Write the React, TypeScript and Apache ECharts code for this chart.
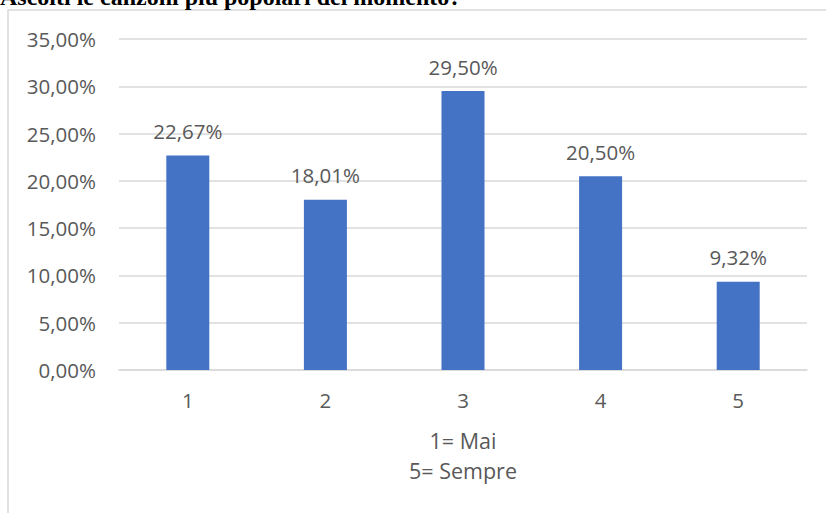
import React, { useEffect, useRef } from "react";
import * as echarts from "echarts";

const categories = ["1", "2", "3", "4", "5"];
const percentages = [22.67, 18.01, 29.5, 20.5, 9.32];
const axisNote = ["1= Mai", "5= Sempre"];
const title = "Ascolti le canzoni più popolari del momento?";

const fmt = (v: number) => v.toFixed(2).replace(".", ",") + "%";

const FONT = "Open Sans";
const TEXT = "#595959";

export default function App() {
  const ref = useRef<HTMLDivElement>(null);

  useEffect(() => {
    if (!ref.current) return;
    const chart = echarts.init(ref.current, null, { renderer: "svg" });
    chart.setOption({
      animation: false,
      backgroundColor: "#ffffff",
      grid: { left: 119, right: 19, top: 39, bottom: 143 },
      graphic: [
        {
          type: "rect",
          shape: { x: 8, y: 10, width: 900, height: 600 },
          style: { fill: "none", stroke: "#d9d9d9", lineWidth: 1.5 },
          z: -1,
        },
        {
          type: "text",
          x: 0,
          y: -3,
          style: {
            text: title,
            font: "bold 24px 'Liberation Serif'",
            fill: "#000000",
            verticalAlign: "middle",
          },
        },
        {
          type: "text",
          x: 463,
          y: 425,
          style: {
            text: axisNote.join("\n"),
            font: `21.5px '${FONT}'`,
            fill: TEXT,
            align: "center",
            verticalAlign: "top",
            lineHeight: 30,
          },
        },
      ],
      xAxis: {
        type: "category",
        data: categories,
        axisLine: { lineStyle: { color: "#d9d9d9", width: 1.5 } },
        axisTick: { show: false },
        axisLabel: {
          color: TEXT,
          fontFamily: FONT,
          fontSize: 20.5,
          margin: 19,
        },
      },
      yAxis: {
        type: "value",
        min: 0,
        max: 35,
        interval: 5,
        axisLine: { show: false },
        axisTick: { show: false },
        splitLine: { lineStyle: { color: "#d9d9d9", width: 1.5 } },
        axisLabel: {
          color: TEXT,
          fontFamily: FONT,
          fontSize: 20.5,
          margin: 23,
          formatter: (v: number) => fmt(v),
        },
      },
      series: [
        {
          type: "bar",
          data: percentages,
          barWidth: 43,
          itemStyle: { color: "#4472C4" },
          label: {
            show: true,
            position: "top",
            distance: 14,
            color: TEXT,
            fontFamily: FONT,
            fontSize: 20.5,
            formatter: (p: any) => fmt(p.value),
          },
        },
      ],
    });
    return () => chart.dispose();
  }, []);

  return <div ref={ref} style={{ width: 826, height: 513, position: "fixed", left: 0, top: 0 }} />;
}
